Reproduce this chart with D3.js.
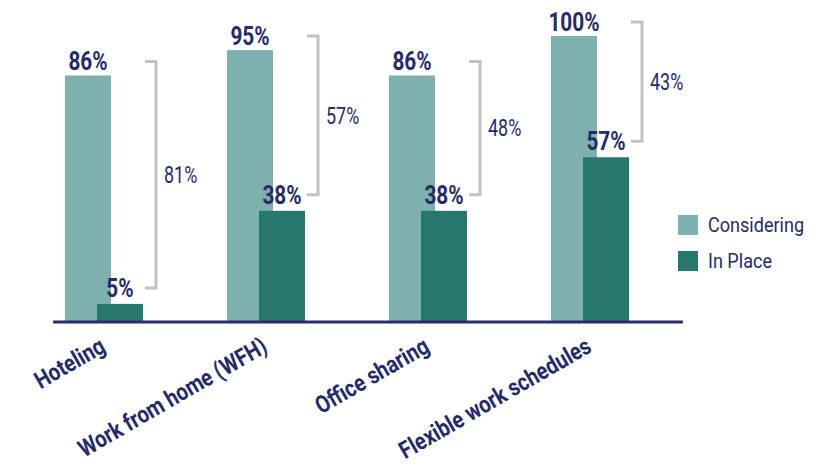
<!DOCTYPE html>
<html><head><meta charset="utf-8">
<script src="https://cdn.jsdelivr.net/npm/d3@7"></script>
<style>
html,body{margin:0;padding:0;background:#fff;}
svg{display:block;}
.nar{font-family:Roboto,"Liberation Sans",sans-serif;}
</style></head>
<body>
<svg id="chart" width="826" height="467"></svg>
<script>
const categories = ["Hoteling", "Work from home (WFH)", "Office sharing", "Flexible work schedules"];
const series = ["Considering", "In Place"];
const considering = [86, 95, 86, 100];
const inPlace = [5, 38, 38, 57];
const colors = ["#7eb0ad", "#27776e"];
const navy = "#262a66";

const svg = d3.select("#chart");
const x = d3.scaleBand().domain(categories).range([23, 671]);
const y = d3.scaleLinear().domain([0, 100]).range([318, 36]);
const baseY = 322;
const barW = 46;
const cx = c => x(c) + x.bandwidth() / 2;

const data = categories.map((c, i) => ({c, cons: considering[i], inp: inPlace[i]}));

// Considering bars
svg.selectAll("rect.cons").data(data).join("rect")
  .attr("x", d => cx(d.c) - 39).attr("width", barW)
  .attr("y", d => y(d.cons)).attr("height", d => baseY - y(d.cons))
  .attr("fill", colors[0]);
// In place bars
svg.selectAll("rect.inp").data(data).join("rect")
  .attr("x", d => cx(d.c) - 7).attr("width", barW)
  .attr("y", d => y(d.inp)).attr("height", d => baseY - y(d.inp))
  .attr("fill", colors[1]);

// Axis line
svg.append("line").attr("x1", 53).attr("x2", 683).attr("y1", baseY).attr("y2", baseY)
  .attr("stroke", "#2b2d6b").attr("stroke-width", 3);

const SB = 0.8, SR = 0.78;
// Value labels
svg.selectAll("text.vc").data(data).join("text").attr("class", "nar")
  .attr("transform", d => `translate(${cx(d.c) - 16},${y(d.cons) - 5}) scale(${SB},1)`)
  .attr("text-anchor", "middle").attr("font-size", 26).attr("font-weight", "bold")
  .attr("fill", navy).text(d => d.cons + "%");
svg.selectAll("text.vi").data(data).join("text").attr("class", "nar")
  .attr("transform", d => `translate(${cx(d.c) + 16},${y(d.inp) - 7}) scale(${SB},1)`)
  .attr("text-anchor", "middle").attr("font-size", 26).attr("font-weight", "bold")
  .attr("fill", navy).text(d => d.inp + "%");

// Brackets
const bx = d => cx(d.c) + 52;
svg.selectAll("path.br").data(data).join("path")
  .attr("d", d => {
    const t = y(d.cons) - 14, b = y(d.inp) - 16, X = bx(d);
    return `M${X - 11},${t}H${X}V${b}H${X - 11}`;
  })
  .attr("fill", "none").attr("stroke", "#c2c2c2").attr("stroke-width", 3);
svg.selectAll("text.gap").data(data).join("text").attr("class", "nar")
  .attr("transform", d => `translate(${bx(d) + 8},${((y(d.cons) - 14) + (y(d.inp) - 16)) / 2}) scale(${SR},1)`)
  .attr("dy", "0.35em").attr("font-size", 23).attr("fill", navy)
  .text(d => (d.cons - d.inp) + "%");

// X labels
svg.selectAll("text.xl").data(categories).join("text").attr("class", "nar")
  .attr("transform", c => `translate(${cx(c) + 3},351) rotate(-30) scale(0.84,1)`)
  .attr("text-anchor", "end").attr("font-size", 24).attr("font-weight", "bold")
  .attr("fill", navy).text(c => c);

// Legend
const lg = svg.append("g");
series.forEach((s, i) => {
  lg.append("rect").attr("x", 678).attr("y", 215 + i * 36).attr("width", 20).attr("height", 20).attr("fill", colors[i]);
  lg.append("text").attr("class", "nar")
    .attr("transform", `translate(708,${232 + i * 36}) scale(0.86,1)`)
    .attr("font-size", 21).attr("fill", navy).text(s);
});
</script>
</body></html>
